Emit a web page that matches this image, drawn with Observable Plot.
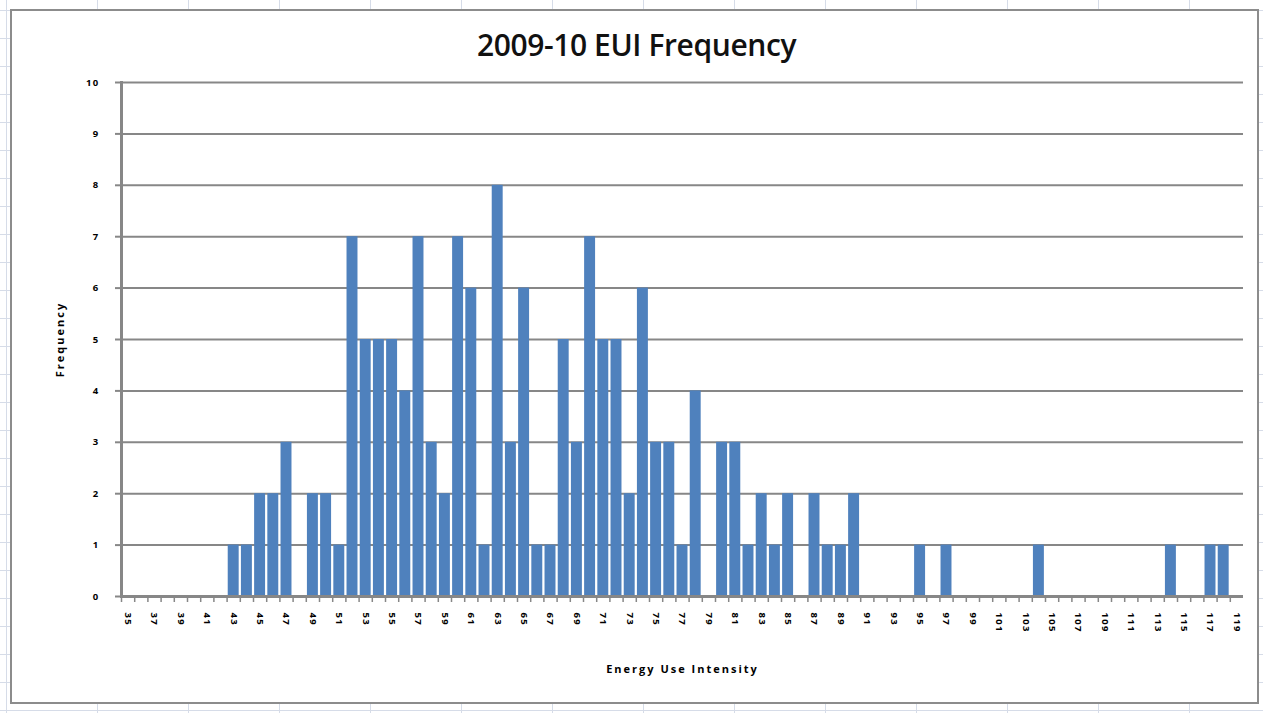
<!DOCTYPE html>
<html>
<head>
<meta charset="utf-8">
<script src="https://cdn.jsdelivr.net/npm/d3@7"></script>
<script src="https://cdn.jsdelivr.net/npm/@observablehq/plot@0.6"></script>
<style>
  html, body { margin: 0; padding: 0; }
  body {
    width: 1263px; height: 713px; overflow: hidden; position: relative;
    background-color: #fff;
    background-image:
      repeating-linear-gradient(to right, transparent 0px, transparent 6px, #d6dce8 6px, #d6dce8 7px, transparent 7px, transparent 91px),
      repeating-linear-gradient(to bottom, transparent 0px, transparent 10px, #d6dce8 10px, #d6dce8 11px, transparent 11px, transparent 28px);
  }
  #frame {
    position: absolute; left: 10px; top: 9px; width: 1245px; height: 691px;
    border: 2px solid #8c8c8c; background: #fff; box-sizing: content-box;
  }
  #title {
    position: absolute; left: 0; width: 1273px; top: 24px; text-align: center;
    font-family: "Open Sans", sans-serif; font-weight: 600; font-size: 30px; color: #111;
    letter-spacing: -0.4px;
  }
  #chart { position: absolute; left: 0; top: 0; }
  #chart svg .ticklab text { letter-spacing: 1.3px; }
  #chart svg .axislab text { letter-spacing: 2px; }
</style>
</head>
<body>
<div id="frame"></div>
<div id="title">2009-10 EUI Frequency</div>
<div id="chart"></div>
<script>
const categories = [35,36,37,38,39,40,41,42,43,44,45,46,47,48,49,50,51,52,53,54,55,56,57,58,59,60,61,62,63,64,65,66,67,68,69,70,71,72,73,74,75,76,77,78,79,80,81,82,83,84,85,86,87,88,89,90,91,92,93,94,95,96,97,98,99,100,101,102,103,104,105,106,107,108,109,110,111,112,113,114,115,116,117,118,119];
const frequency  = [0,0,0,0,0,0,0,0,1,1,2,2,3,0,2,2,1,7,5,5,5,4,7,3,2,7,6,1,8,3,6,1,1,5,3,7,5,5,2,6,3,3,1,4,0,3,3,1,2,1,2,0,2,1,1,2,0,0,0,0,1,0,1,0,0,0,0,0,0,1,0,0,0,0,0,0,0,0,0,1,0,0,1,1,0];
const yTicks = [0,1,2,3,4,5,6,7,8,9,10];
const xTickLabels = categories.filter(d => d % 2 === 1);
const titleText = "2009-10 EUI Frequency";
const xLabel = "Energy Use Intensity";
const yLabel = "Frequency";

document.getElementById("title").textContent = titleText;
const data = categories.map((c, i) => ({category: c, frequency: frequency[i]}));

const W = 1263, H = 713;
const mL = 121, mR = 20, mT = 82, mB = 117;
const step = (W - mL - mR) / categories.length;
const gray = "#878787";
const tickFont = {fontFamily: "'Open Sans', sans-serif", fontSize: 9.5, fontWeight: "bold"};
const labFont = {fontFamily: "'Open Sans', sans-serif", fontSize: 11, fontWeight: "bold"};

const chart = Plot.plot({
  width: W, height: H,
  marginLeft: mL, marginRight: mR, marginTop: mT, marginBottom: mB,
  style: {background: "transparent", fontFamily: "'Open Sans', sans-serif", color: "#000"},
  x: {type: "band", domain: categories, paddingInner: 0.17, paddingOuter: 0.085, round: false},
  y: {domain: [0, 10]},
  marks: [
    Plot.gridY(yTicks, {stroke: gray, strokeOpacity: 1, strokeWidth: 2}),
    Plot.barY(data, {x: "category", y: "frequency", fill: "#4f81bd"}),
    Plot.ruleY([0], {stroke: gray, strokeWidth: 3}),
    Plot.frame({anchor: "left", stroke: gray, strokeWidth: 3}),
    Plot.axisY(yTicks, {text: null, tickSize: 6, stroke: gray, strokeWidth: 2, label: null}),
    Plot.axisY(yTicks, {tickSize: 0, tickPadding: 22, tickFormat: d3.format("d"), ...tickFont, label: null, className: "ticklab"}),
    Plot.axisX(categories, {text: null, tickSize: 6, dx: -step / 2, stroke: gray, strokeWidth: 1.5, label: null}),
    Plot.axisX(xTickLabels, {tickSize: 0, tickPadding: 16, tickRotate: 90, ...tickFont, label: null, className: "ticklab"}),
    Plot.text([yLabel], {frameAnchor: "left", dx: -61, rotate: -90, textAnchor: "middle", text: d => d, ...labFont, className: "axislab"}),
    Plot.text([xLabel], {frameAnchor: "bottom", dy: 76, textAnchor: "middle", text: d => d, ...labFont, className: "axislab"})
  ]
});
document.getElementById("chart").appendChild(chart);
</script>
</body>
</html>
